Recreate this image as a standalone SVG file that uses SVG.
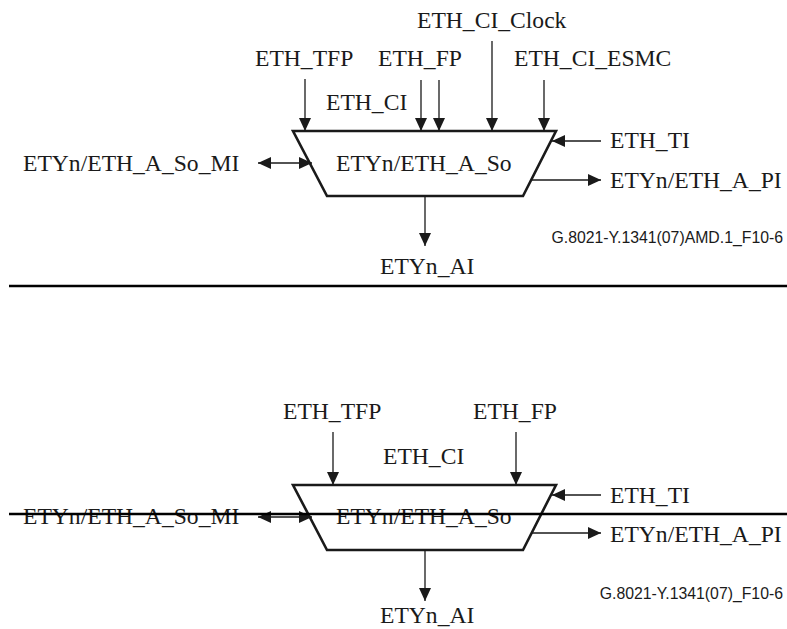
<svg xmlns="http://www.w3.org/2000/svg" width="787" height="629" viewBox="0 0 787 629">
<style>
.t{font-family:"Liberation Serif","Times New Roman",serif;font-size:23.6px;fill:#1a1a1a}
.s{font-family:"Liberation Sans",Arial,sans-serif;font-size:15.8px;fill:#1a1a1a}
.blk{fill:#fff;stroke:#1a1a1a;stroke-width:2.6}
.c{stroke:#1a1a1a;stroke-width:1.3;fill:none}
.c1{marker-end:url(#ah)}
.c2{marker-end:url(#ah);marker-start:url(#ahs)}
.rule{stroke:#000;stroke-width:2.6}
</style>
<defs>
<marker id="ah" markerUnits="userSpaceOnUse" markerWidth="14" markerHeight="13" refX="13" refY="6" orient="auto">
<path d="M0,0 L13,6 L0,12 z" fill="#1a1a1a"/>
</marker>
<marker id="ahs" markerUnits="userSpaceOnUse" markerWidth="14" markerHeight="13" refX="13" refY="6" orient="auto-start-reverse">
<path d="M0,0 L13,6 L0,12 z" fill="#1a1a1a"/>
</marker>
</defs>

<!-- Top diagram -->
<g id="top-block">
<path class="blk" d="M293,131 L556,131 L523,196 L327,196 Z"/>
<text class="t" x="336" y="171">ETYn/ETH_A_So</text>
</g>
<g id="top-labels">
<text class="t" x="417" y="28">ETH_CI_Clock</text>
<text class="t" x="255" y="66">ETH_TFP</text>
<text class="t" x="378" y="66">ETH_FP</text>
<text class="t" x="514" y="66">ETH_CI_ESMC</text>
<text class="t" x="326" y="110">ETH_CI</text>
<text class="t" x="23" y="171">ETYn/ETH_A_So_MI</text>
<text class="t" x="610" y="148">ETH_TI</text>
<text class="t" x="610" y="188">ETYn/ETH_A_PI</text>
<text class="t" x="380" y="274">ETYn_AI</text>
<text class="s" x="783" y="243" text-anchor="end">G.8021-Y.1341(07)AMD.1_F10-6</text>
</g>
<g id="top-connectors">
<line class="c c1" x1="305" y1="79" x2="305" y2="131"/>
<line class="c c1" x1="421" y1="80" x2="421" y2="131"/>
<line class="c c1" x1="439" y1="80" x2="439" y2="131"/>
<line class="c c1" x1="492" y1="41" x2="492" y2="131"/>
<line class="c c1" x1="544" y1="80" x2="544" y2="131"/>
<line class="c c1" x1="601" y1="141" x2="552" y2="141"/>
<line class="c c1" x1="532" y1="180" x2="601" y2="180"/>
<line class="c c2" x1="258" y1="163" x2="312" y2="163"/>
<line class="c c1" x1="425" y1="196" x2="425" y2="246"/>
</g>
<line class="rule" x1="9" y1="286" x2="787" y2="286"/>

<!-- Bottom diagram -->
<g id="bottom-block">
<path class="blk" d="M293,485 L556,485 L523,550 L327,550 Z"/>
<text class="t" x="336" y="524">ETYn/ETH_A_So</text>
</g>
<g id="bottom-labels">
<text class="t" x="283" y="419">ETH_TFP</text>
<text class="t" x="473" y="419">ETH_FP</text>
<text class="t" x="383" y="464">ETH_CI</text>
<text class="t" x="23" y="524">ETYn/ETH_A_So_MI</text>
<text class="t" x="610" y="503">ETH_TI</text>
<text class="t" x="610" y="542">ETYn/ETH_A_PI</text>
<text class="t" x="380" y="623">ETYn_AI</text>
<text class="s" x="783" y="599" text-anchor="end">G.8021-Y.1341(07)_F10-6</text>
</g>
<g id="bottom-connectors">
<line class="c c1" x1="333" y1="432" x2="333" y2="485"/>
<line class="c c1" x1="516" y1="432" x2="516" y2="485"/>
<line class="c c1" x1="601" y1="495" x2="552" y2="495"/>
<line class="c c1" x1="532" y1="533" x2="601" y2="533"/>
<line class="c c2" x1="258" y1="517" x2="312" y2="517"/>
<line class="c c1" x1="425" y1="550" x2="425" y2="601"/>
</g>
<line class="rule" x1="9" y1="514" x2="787" y2="514"/>
</svg>
